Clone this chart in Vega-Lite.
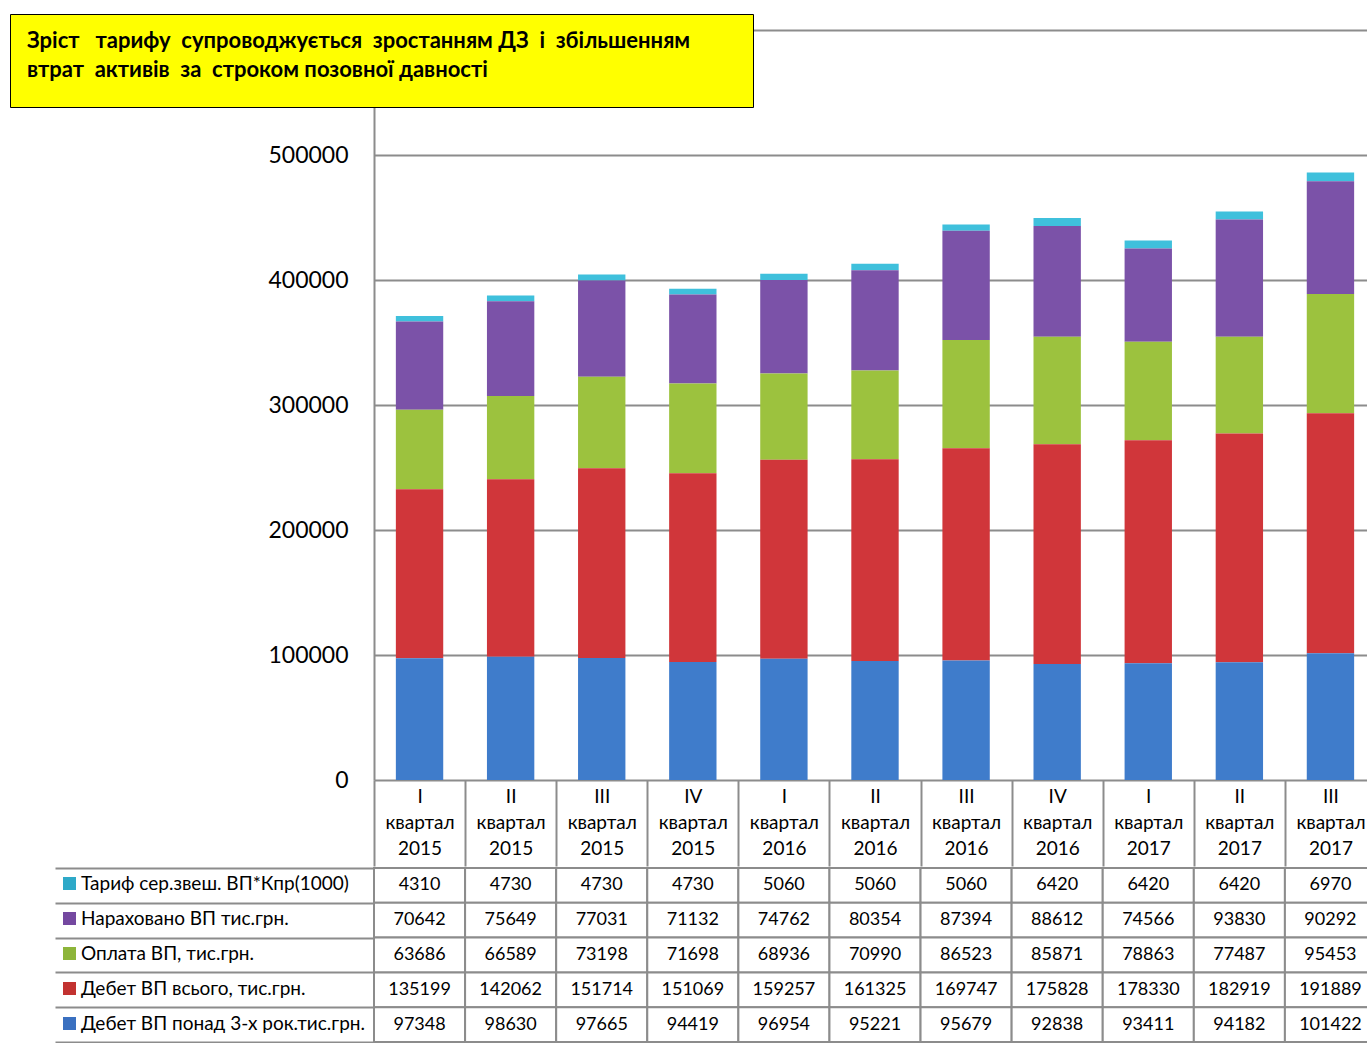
{
  "$schema": "https://vega.github.io/schema/vega-lite/v6.json",
  "padding": {"left": 9, "top": 13, "right": 0, "bottom": 0},
  "background": "white",
  "config": {"font": "Lato", "view": {"stroke": null}},
  "spacing": 0,
  "resolve": {"scale": {"color": "independent"}, "legend": {"color": "independent"}},
  "datasets": {
    "so": [
      {"s": "Дебет ВП понад 3-х рок.тис.грн.", "k": 0},
      {"s": "Дебет ВП всього, тис.грн.", "k": 1},
      {"s": "Оплата ВП, тис.грн.", "k": 2},
      {"s": "Нараховано ВП тис.грн.", "k": 3},
      {"s": "Тариф сер.звеш. ВП*Кпр(1000)", "k": 4}
    ],
    "d": [
      {"q": "I квартал 2015", "s": "Тариф сер.звеш. ВП*Кпр(1000)", "v": 4310},
      {"q": "II квартал 2015", "s": "Тариф сер.звеш. ВП*Кпр(1000)", "v": 4730},
      {"q": "III квартал 2015", "s": "Тариф сер.звеш. ВП*Кпр(1000)", "v": 4730},
      {"q": "IV квартал 2015", "s": "Тариф сер.звеш. ВП*Кпр(1000)", "v": 4730},
      {"q": "I квартал 2016", "s": "Тариф сер.звеш. ВП*Кпр(1000)", "v": 5060},
      {"q": "II квартал 2016", "s": "Тариф сер.звеш. ВП*Кпр(1000)", "v": 5060},
      {"q": "III квартал 2016", "s": "Тариф сер.звеш. ВП*Кпр(1000)", "v": 5060},
      {"q": "IV квартал 2016", "s": "Тариф сер.звеш. ВП*Кпр(1000)", "v": 6420},
      {"q": "I квартал 2017", "s": "Тариф сер.звеш. ВП*Кпр(1000)", "v": 6420},
      {"q": "II квартал 2017", "s": "Тариф сер.звеш. ВП*Кпр(1000)", "v": 6420},
      {"q": "III квартал 2017", "s": "Тариф сер.звеш. ВП*Кпр(1000)", "v": 6970},
      {"q": "I квартал 2015", "s": "Нараховано ВП тис.грн.", "v": 70642},
      {"q": "II квартал 2015", "s": "Нараховано ВП тис.грн.", "v": 75649},
      {"q": "III квартал 2015", "s": "Нараховано ВП тис.грн.", "v": 77031},
      {"q": "IV квартал 2015", "s": "Нараховано ВП тис.грн.", "v": 71132},
      {"q": "I квартал 2016", "s": "Нараховано ВП тис.грн.", "v": 74762},
      {"q": "II квартал 2016", "s": "Нараховано ВП тис.грн.", "v": 80354},
      {"q": "III квартал 2016", "s": "Нараховано ВП тис.грн.", "v": 87394},
      {"q": "IV квартал 2016", "s": "Нараховано ВП тис.грн.", "v": 88612},
      {"q": "I квартал 2017", "s": "Нараховано ВП тис.грн.", "v": 74566},
      {"q": "II квартал 2017", "s": "Нараховано ВП тис.грн.", "v": 93830},
      {"q": "III квартал 2017", "s": "Нараховано ВП тис.грн.", "v": 90292},
      {"q": "I квартал 2015", "s": "Оплата ВП, тис.грн.", "v": 63686},
      {"q": "II квартал 2015", "s": "Оплата ВП, тис.грн.", "v": 66589},
      {"q": "III квартал 2015", "s": "Оплата ВП, тис.грн.", "v": 73198},
      {"q": "IV квартал 2015", "s": "Оплата ВП, тис.грн.", "v": 71698},
      {"q": "I квартал 2016", "s": "Оплата ВП, тис.грн.", "v": 68936},
      {"q": "II квартал 2016", "s": "Оплата ВП, тис.грн.", "v": 70990},
      {"q": "III квартал 2016", "s": "Оплата ВП, тис.грн.", "v": 86523},
      {"q": "IV квартал 2016", "s": "Оплата ВП, тис.грн.", "v": 85871},
      {"q": "I квартал 2017", "s": "Оплата ВП, тис.грн.", "v": 78863},
      {"q": "II квартал 2017", "s": "Оплата ВП, тис.грн.", "v": 77487},
      {"q": "III квартал 2017", "s": "Оплата ВП, тис.грн.", "v": 95453},
      {"q": "I квартал 2015", "s": "Дебет ВП всього, тис.грн.", "v": 135199},
      {"q": "II квартал 2015", "s": "Дебет ВП всього, тис.грн.", "v": 142062},
      {"q": "III квартал 2015", "s": "Дебет ВП всього, тис.грн.", "v": 151714},
      {"q": "IV квартал 2015", "s": "Дебет ВП всього, тис.грн.", "v": 151069},
      {"q": "I квартал 2016", "s": "Дебет ВП всього, тис.грн.", "v": 159257},
      {"q": "II квартал 2016", "s": "Дебет ВП всього, тис.грн.", "v": 161325},
      {"q": "III квартал 2016", "s": "Дебет ВП всього, тис.грн.", "v": 169747},
      {"q": "IV квартал 2016", "s": "Дебет ВП всього, тис.грн.", "v": 175828},
      {"q": "I квартал 2017", "s": "Дебет ВП всього, тис.грн.", "v": 178330},
      {"q": "II квартал 2017", "s": "Дебет ВП всього, тис.грн.", "v": 182919},
      {"q": "III квартал 2017", "s": "Дебет ВП всього, тис.грн.", "v": 191889},
      {"q": "I квартал 2015", "s": "Дебет ВП понад 3-х рок.тис.грн.", "v": 97348},
      {"q": "II квартал 2015", "s": "Дебет ВП понад 3-х рок.тис.грн.", "v": 98630},
      {"q": "III квартал 2015", "s": "Дебет ВП понад 3-х рок.тис.грн.", "v": 97665},
      {"q": "IV квартал 2015", "s": "Дебет ВП понад 3-х рок.тис.грн.", "v": 94419},
      {"q": "I квартал 2016", "s": "Дебет ВП понад 3-х рок.тис.грн.", "v": 96954},
      {"q": "II квартал 2016", "s": "Дебет ВП понад 3-х рок.тис.грн.", "v": 95221},
      {"q": "III квартал 2016", "s": "Дебет ВП понад 3-х рок.тис.грн.", "v": 95679},
      {"q": "IV квартал 2016", "s": "Дебет ВП понад 3-х рок.тис.грн.", "v": 92838},
      {"q": "I квартал 2017", "s": "Дебет ВП понад 3-х рок.тис.грн.", "v": 93411},
      {"q": "II квартал 2017", "s": "Дебет ВП понад 3-х рок.тис.грн.", "v": 94182},
      {"q": "III квартал 2017", "s": "Дебет ВП понад 3-х рок.тис.грн.", "v": 101422}
    ]
  },
  "vconcat": [
    {
      "width": 1002,
      "height": 750,
      "data": {"name": "d"},
      "resolve": {"scale": {"color": "independent"}, "legend": {"color": "independent"}, "axis": {"y": "independent"}},
      "layer": [
        {
          "transform": [{"lookup": "s", "from": {"data": {"name": "so"}, "key": "s", "fields": ["k"]}}],
          "mark": {"type": "bar", "width": {"band": 0.52}},
          "encoding": {
            "x": {
              "field": "q", "type": "nominal",
              "sort": ["I квартал 2015", "II квартал 2015", "III квартал 2015", "IV квартал 2015", "I квартал 2016", "II квартал 2016", "III квартал 2016", "IV квартал 2016", "I квартал 2017", "II квартал 2017", "III квартал 2017"],
              "scale": {"paddingInner": 0, "paddingOuter": 0},
              "axis": {
                "title": null, "labelExpr": "split(datum.label, ' ')", "labelFontSize": 19,
                "labelLineHeight": 26, "labelBaseline": "top", "labelAngle": 0, "labelPadding": -79,
                "labelColor": "black", "tickBand": "extent", "tickSize": 86, "tickColor": "#8c8c8c",
                "tickWidth": 2, "domain": false
              }
            },
            "y": {
              "field": "v", "type": "quantitative", "stack": "zero",
              "scale": {"domain": [0, 600000], "nice": false},
              "axis": {
                "title": null, "orient": "left", "values": [0, 100000, 200000, 300000, 400000, 500000],
                "format": "d", "ticks": false, "labelPadding": 26, "labelFontSize": 23,
                "labelColor": "black", "gridColor": "#8c8c8c", "gridWidth": 2,
                "domainColor": "#8c8c8c", "domainWidth": 2
              }
            },
            "order": {"field": "k", "type": "quantitative", "sort": "ascending"},
            "color": {
              "field": "s", "type": "nominal",
              "scale": {
                "domain": ["Дебет ВП понад 3-х рок.тис.грн.", "Дебет ВП всього, тис.грн.", "Оплата ВП, тис.грн.", "Нараховано ВП тис.грн.", "Тариф сер.звеш. ВП*Кпр(1000)"],
                "range": ["#3f7ccb", "#d0363a", "#9cc23e", "#7b52a8", "#3fc0dc"]
              },
              "legend": null
            }
          }
        },
        {
          "mark": {"type": "point", "opacity": 0},
          "encoding": {
            "x": {
              "field": "q", "type": "nominal",
              "sort": ["I квартал 2015", "II квартал 2015", "III квартал 2015", "IV квартал 2015", "I квартал 2016", "II квартал 2016", "III квартал 2016", "IV квартал 2016", "I квартал 2017", "II квартал 2017", "III квартал 2017"]
            },
            "y": {
              "field": "v", "type": "quantitative",
              "axis": {"title": null, "orient": "left", "values": [600000], "labels": false, "ticks": false, "domain": false, "grid": true, "gridColor": "#8c8c8c", "gridWidth": 2}
            },
            "color": {
              "field": "v", "type": "quantitative",
              "scale": {"range": ["#ffff00", "#ffff00"]},
              "legend": {
                "type": "gradient", "direction": "horizontal", "orient": "none",
                "legendX": -364, "legendY": -16, "gradientLength": 709, "gradientThickness": 4,
                "gradientOpacity": 0, "gradientStrokeWidth": 0, "labelFontSize": 1, "labelOpacity": 0,
                "labelOffset": 0,
                "title": ["Зріст\u00a0\u00a0 тарифу\u00a0 супроводжується\u00a0 зростанням ДЗ\u00a0 і\u00a0 збільшенням", "\u2002втрат\u00a0 активів\u00a0 за\u00a0 строком позовної давності"],
                "titleFontSize": 22, "titleFontWeight": "bold", "titleColor": "black",
                "titleLineHeight": 29, "titleLimit": 2000, "titleAnchor": "start", "titlePadding": 3,
                "titleBaseline": "top",
                "fillColor": "#ffff00", "strokeColor": "black", "padding": 17, "zindex": 1
              }
            }
          }
        }
      ]
    },
    {
      "width": 1002,
      "height": 174,
      "data": {"name": "d"},
      "resolve": {"axis": {"y": "independent"}},
      "layer": [
        {
          "mark": {"type": "rect", "fill": "white", "stroke": "#8c8c8c", "strokeWidth": 2},
          "encoding": {
            "x": {
              "field": "q", "type": "nominal",
              "sort": ["I квартал 2015", "II квартал 2015", "III квартал 2015", "IV квартал 2015", "I квартал 2016", "II квартал 2016", "III квартал 2016", "IV квартал 2016", "I квартал 2017", "II квартал 2017", "III квартал 2017"],
              "scale": {"paddingInner": 0, "paddingOuter": 0}, "axis": null
            },
            "y": {
              "field": "s", "type": "nominal",
              "sort": ["Тариф сер.звеш. ВП*Кпр(1000)", "Нараховано ВП тис.грн.", "Оплата ВП, тис.грн.", "Дебет ВП всього, тис.грн.", "Дебет ВП понад 3-х рок.тис.грн."],
              "scale": {"paddingInner": 0, "paddingOuter": 0},
              "axis": {"title": null, "labels": false, "domain": false, "tickBand": "extent", "tickSize": 319, "tickColor": "#8c8c8c", "tickWidth": 2}
            }
          }
        },
        {
          "mark": {"type": "text", "fontSize": 18, "color": "black"},
          "encoding": {
            "x": {
              "field": "q", "type": "nominal",
              "sort": ["I квартал 2015", "II квартал 2015", "III квартал 2015", "IV квартал 2015", "I квартал 2016", "II квартал 2016", "III квартал 2016", "IV квартал 2016", "I квартал 2017", "II квартал 2017", "III квартал 2017"],
              "axis": null
            },
            "y": {
              "field": "s", "type": "nominal",
              "sort": ["Тариф сер.звеш. ВП*Кпр(1000)", "Нараховано ВП тис.грн.", "Оплата ВП, тис.грн.", "Дебет ВП всього, тис.грн.", "Дебет ВП понад 3-х рок.тис.грн."],
              "axis": {"title": null, "labels": false, "ticks": false, "domain": true, "domainColor": "#8c8c8c", "domainWidth": 2, "offset": 319}
            },
            "text": {"field": "v", "type": "quantitative", "format": "d"}
          }
        },
        {
          "mark": {"type": "point", "filled": true, "size": 0},
          "encoding": {
            "x": {
              "field": "q", "type": "nominal",
              "sort": ["I квартал 2015", "II квартал 2015", "III квартал 2015", "IV квартал 2015", "I квартал 2016", "II квартал 2016", "III квартал 2016", "IV квартал 2016", "I квартал 2017", "II квартал 2017", "III квартал 2017"],
              "axis": null
            },
            "y": {
              "field": "s", "type": "nominal",
              "sort": ["Тариф сер.звеш. ВП*Кпр(1000)", "Нараховано ВП тис.грн.", "Оплата ВП, тис.грн.", "Дебет ВП всього, тис.грн.", "Дебет ВП понад 3-х рок.тис.грн."],
              "axis": null
            },
            "color": {
              "field": "s", "type": "nominal",
              "sort": ["Тариф сер.звеш. ВП*Кпр(1000)", "Нараховано ВП тис.грн.", "Оплата ВП, тис.грн.", "Дебет ВП всього, тис.грн.", "Дебет ВП понад 3-х рок.тис.грн."],
              "scale": {
                "domain": ["Тариф сер.звеш. ВП*Кпр(1000)", "Нараховано ВП тис.грн.", "Оплата ВП, тис.грн.", "Дебет ВП всього, тис.грн.", "Дебет ВП понад 3-х рок.тис.грн."],
                "range": ["#2ea9c8", "#7448a0", "#8db53a", "#c23230", "#3a70c0"]
              },
              "legend": {
                "orient": "none", "legendX": -314, "legendY": 6, "title": null,
                "symbolType": "square", "symbolSize": 169, "symbolStrokeWidth": 0, "symbolOpacity": 1,
                "labelFontSize": 19, "labelLimit": 400, "labelOffset": 2, "rowPadding": 15,
                "padding": 0, "labelColor": "black"
              }
            }
          }
        }
      ]
    }
  ]
}
